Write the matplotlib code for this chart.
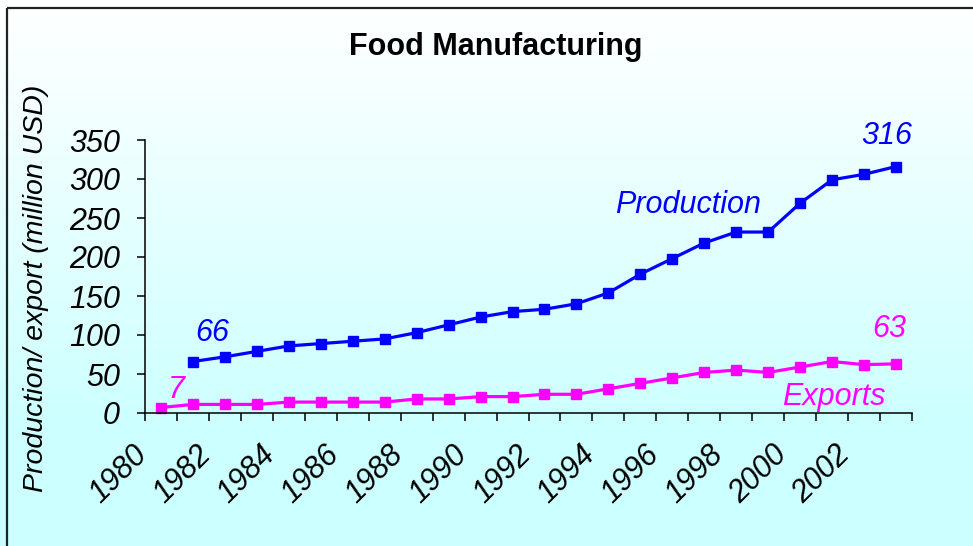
import numpy as np
import matplotlib
matplotlib.use("Agg")
import matplotlib.pyplot as plt
import matplotlib.transforms as mtransforms
from matplotlib.patches import Rectangle

plt.rcParams['font.family'] = ['Liberation Sans', 'DejaVu Sans']

# data
years = list(range(1980, 2004))
production = [None, 66, 72, 79, 86, 89, 92, 95, 103, 113, 123, 130, 133, 140,
              154, 178, 198, 218, 232, 232, 269, 299, 306, 316]
exports = [7, 11, 11, 11, 14, 14, 14, 14, 18, 18, 21, 21, 24, 24,
           31, 38, 45, 52, 55, 52, 59, 66, 62, 63]
label_years = list(range(1980, 2003, 2))
y_ticks = [0, 50, 100, 150, 200, 250, 300, 350]

BLUE = '#0000FF'
MAGENTA = '#FF00FF'
FS = 22

W, H = 973, 546
fig = plt.figure(figsize=(W / 100, H / 100), dpi=100)

# gradient background (white at top -> light cyan)
bg = fig.add_axes([0, 0, 1, 1], zorder=-10)
rows = np.arange(H)
t = np.clip((rows - 8) / (430 - 8), 0, 1)
grad = np.ones((H, 2, 3))
grad[:, :, 0] = (1 - t[:, None] * (1 - 0.80))
bg.imshow(grad, aspect='auto', extent=[0, W, H, 0])
bg.set_xlim(0, W)
bg.set_ylim(H, 0)
bg.axis('off')
# chart frame (extends beyond right/bottom edge)
bg.add_patch(Rectangle((6.5, 8), W + 20, H + 20, fill=False,
                       edgecolor='#222222', lw=1.6))

ax = fig.add_axes([145 / W, 1 - 413 / H, (912 - 145) / W, (413 - 140) / H])
ax.set_facecolor('none')

prod = np.array([np.nan if v is None else v for v in production], dtype=float)
ax.plot(years, prod, color=BLUE, lw=2.3, marker='s', markersize=7.8,
        clip_on=False)
ax.plot(years, exports, color=MAGENTA, lw=2.3, marker='s', markersize=7.8,
        clip_on=False)

ax.set_xlim(1979.5, 2003.5)
ax.set_ylim(0, 350)
for s in ['top', 'right']:
    ax.spines[s].set_visible(False)
for s in ['left', 'bottom']:
    ax.spines[s].set_linewidth(1.1)

ax.set_yticks(y_ticks)
ax.set_yticklabels([str(v) for v in y_ticks], fontsize=FS, style='italic')
ax.tick_params(axis='y', length=6, width=1.1, pad=12)

# category boundaries get tick marks, labels under every 2nd category
ax.set_xticks(np.arange(1979.5, 2004, 1), minor=True)
ax.set_xticks(label_years)
ax.set_xticklabels([str(y) for y in label_years], fontsize=FS, style='italic',
                   rotation=45, ha='right', va='center', rotation_mode='anchor')
ax.tick_params(axis='x', which='minor', length=6, width=1.1)
ax.tick_params(axis='x', which='major', length=0, pad=27)
shift = mtransforms.ScaledTranslation(-0.18, 0, fig.dpi_scale_trans)
for lab in ax.get_xticklabels():
    lab.set_transform(lab.get_transform() + shift)

ax.set_ylabel('Production/ export (million USD)', fontsize=20.5, style='italic')
ax.yaxis.set_label_coords(-0.125, 0.458)

fig.text(496 / W, 1 - 55 / H, 'Food Manufacturing', fontsize=FS,
         fontweight='bold', ha='center', va='baseline')

# value labels
ax.annotate(str(production[1]), (years[1], production[1]), xytext=(1.5, 14.5),
            textcoords='offset points', color=BLUE, fontsize=FS,
            style='italic', ha='left', va='baseline')
ax.annotate(str(exports[0]), (years[0], exports[0]), xytext=(5, 7),
            textcoords='offset points', color=MAGENTA, fontsize=FS,
            style='italic', ha='left', va='baseline')
ax.annotate(str(production[-1]), (years[-1], production[-1]), xytext=(-7, 16.5),
            textcoords='offset points', color=BLUE, fontsize=FS,
            style='italic', ha='center', va='baseline')
ax.annotate(str(exports[-1]), (years[-1], exports[-1]), xytext=(-5, 19),
            textcoords='offset points', color=MAGENTA, fontsize=FS,
            style='italic', ha='center', va='baseline')

ax.text(1994.2, 257, 'Production', color=BLUE, fontsize=FS, style='italic',
        ha='left', va='baseline')
ax.text(1999.43, 10, 'Exports', color=MAGENTA, fontsize=FS, style='italic',
        ha='left', va='baseline')

fig.savefig('out.png', dpi=100)
